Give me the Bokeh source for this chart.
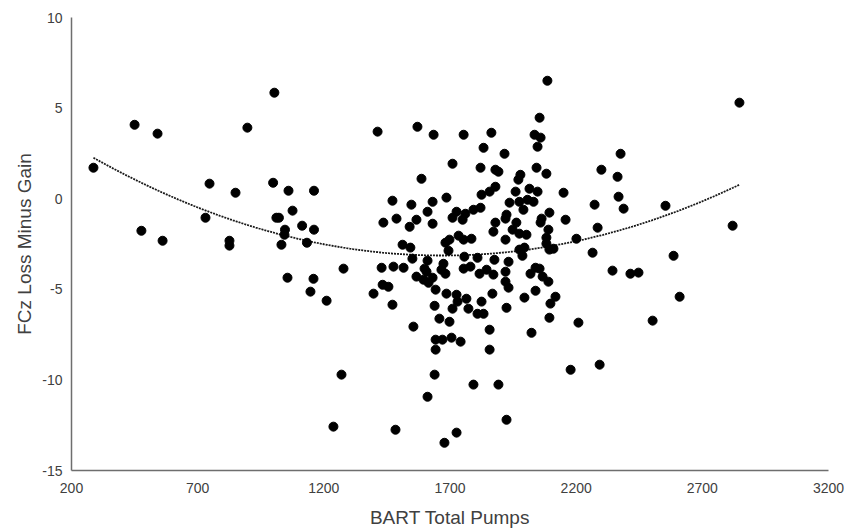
import numpy as np
from bokeh.plotting import figure
from bokeh.models import FixedTicker, ColumnDataSource
from bokeh.embed import file_html
from bokeh.resources import INLINE

# BART total pumps (x) and FCz loss-minus-gain (y)
pumps = [
    287, 450, 541, 1004, 897, 747, 850, 1060, 1076, 731, 1012, 477, 561, 826, 826, 1044, 1032, 1056,
    2086, 2055, 1413, 1571, 1635, 1754, 1864, 2035, 2059, 2047, 1833, 1916, 1710, 1821, 1880, 1892,
    2043, 2082, 1979, 1971, 1587, 999, 1161, 2150, 1960, 2015, 2047, 1880, 1857, 1825, 1686, 1472,
    1547, 1631, 1936, 1975, 2007, 2031, 1991, 1022, 1611, 1488, 1567, 1726, 1761, 1710, 1750, 1793,
    1821, 1924, 1920, 2094, 2063, 2059, 2158, 1880, 1963, 1436, 1631, 1046, 1114, 1161, 1540, 1872,
    1948, 1975, 2003, 2090, 1133, 1734, 1754, 1785, 1682, 1698, 1920, 2082, 2082, 2201, 1512, 1543,
    1694, 1975, 1995, 2094, 2110, 1757, 1809, 1551, 1611, 1674, 1876, 1932, 1987, 1278, 1429, 1476,
    1516, 1599, 1666, 1781, 1845, 2039, 2055, 1159, 1147, 1211, 1433, 1456, 1397, 1472, 1555, 1567,
    1595, 1631, 1615, 1643, 1639, 1682, 1686, 1726, 1730, 1710, 1765, 1773, 1817, 1872, 1825, 1809,
    1833, 1868, 1920, 1920, 1932, 1924, 2019, 2067, 2090, 2039, 1995, 2118, 2098, 2094, 1658, 1698,
    1857, 2023, 2209, 1643, 1670, 1706, 1742, 1643, 1857, 2178, 1270, 1639, 1793, 1892, 1611, 1924,
    1238, 1484, 1726, 1678, 2344, 2415, 2447, 2610, 2503, 2293, 2847, 2376, 2300, 2364, 2368, 2388,
    2273, 2554, 2285, 2820, 2265, 2586, 1607, 1754,
]
loss_minus_gain = [
    1.71, 4.08, 3.59, 5.85, 3.92, 0.83, 0.33, 0.44, -0.66, -1.05, -1.05, -1.77, -2.32, -2.32, -2.59, -1.99, -2.54, -4.36,
    6.51, 4.47, 3.70, 3.97, 3.53, 3.53, 3.64, 3.53, 3.37, 2.87, 2.81, 2.48, 1.93, 1.71, 1.60, 1.49,
    1.71, 1.38, 1.32, 1.05, 1.10, 0.88, 0.44, 0.33, 0.39, 0.55, 0.39, 0.66, 0.39, 0.22, 0.06, -0.11,
    -0.33, -0.17, -0.22, -0.17, -0.06, -0.17, -0.61, -1.05, -0.72, -1.10, -1.16, -0.72, -0.83, -1.05, -1.16, -0.61,
    -0.50, -0.88, -1.10, -0.77, -1.10, -1.32, -1.16, -1.32, -1.32, -1.32, -1.38, -1.71, -1.49, -1.71, -1.55, -1.82,
    -1.71, -1.93, -1.99, -1.71, -2.43, -2.04, -2.26, -2.21, -2.43, -2.26, -2.26, -2.15, -2.48, -2.21, -2.54, -2.70,
    -2.87, -2.81, -2.70, -2.81, -2.76, -3.20, -3.26, -3.31, -3.42, -3.59, -3.37, -3.48, -3.15, -3.86, -3.81, -3.75,
    -3.81, -3.86, -3.92, -3.75, -3.92, -3.81, -3.86, -4.42, -5.13, -5.63, -4.75, -4.86, -5.24, -5.85, -7.06, -4.30,
    -4.47, -4.36, -4.64, -5.02, -5.91, -4.14, -5.24, -5.30, -5.68, -6.07, -5.52, -6.07, -4.14, -4.19, -5.68, -6.35,
    -6.35, -5.24, -4.03, -4.58, -4.91, -6.02, -4.14, -4.30, -4.58, -5.08, -5.46, -5.41, -5.79, -6.57, -6.62, -6.79,
    -7.23, -7.40, -6.84, -7.78, -7.78, -7.67, -7.89, -8.33, -8.33, -9.44, -9.71, -9.71, -10.26, -10.26, -10.93, -12.20,
    -12.58, -12.75, -12.91, -13.47, -3.97, -4.14, -4.08, -5.41, -6.73, -9.16, 5.30, 2.48, 1.60, 1.21, 0.11, -0.55,
    -0.33, -0.39, -1.60, -1.49, -2.98, -3.15, -4.03, -3.86,
]

# Polynomial (order 2) trendline at a few x positions
trend_read_x = [287, 1060, 1670, 2210, 2847]
trend_read_y = [2.26, -2.08, -3.15, -2.30, 0.77]

x_ticks = [200, 700, 1200, 1700, 2200, 2700, 3200]
y_ticks = [-15, -10, -5, 0, 5, 10]
y_tick_labels = ["-15", "-10", "-5", "0", "5", "10"]

coef = np.polyfit(trend_read_x, trend_read_y, 2)
trend_x = np.linspace(min(pumps), max(pumps), 200)
trend_y = np.polyval(coef, trend_x)

p = figure(frame_width=757, frame_height=453, output_backend="svg", toolbar_location=None,
           x_range=(200, 3200), y_range=(-15, 10),
           min_border_left=71, min_border_right=20, min_border_top=17, min_border_bottom=50)
p.outline_line_color = None
p.xgrid.grid_line_color = None
p.ygrid.grid_line_color = None
p.background_fill_color = "white"
p.border_fill_color = "white"

p.line(trend_x, trend_y, line_color="#1a1a1a", line_width=1.8, line_dash="2 1")
src = ColumnDataSource(data=dict(x=pumps, y=loss_minus_gain))
p.scatter("x", "y", source=src, size=9, fill_color="black", line_color="black")

for ax in (p.xaxis, p.yaxis):
    ax.major_tick_line_color = None
    ax.minor_tick_line_color = None
    ax.major_tick_out = 0
    ax.major_tick_in = 0
    ax.minor_tick_out = 0
    ax.minor_tick_in = 0
    ax.axis_line_color = "#6e6e6e"
    ax.axis_line_width = 1.5
    ax.major_label_text_font = "Liberation Sans"
    ax.major_label_text_font_size = "14px"
    ax.major_label_text_color = "#404040"
    ax.axis_label_text_font = "Liberation Sans"
    ax.axis_label_text_font_size = "19px"
    ax.axis_label_text_font_style = "normal"
    ax.axis_label_text_color = "#404040"

p.xaxis.ticker = FixedTicker(ticks=x_ticks)
p.yaxis.ticker = FixedTicker(ticks=y_ticks)
p.yaxis.major_label_overrides = {t: s for t, s in zip(y_ticks, y_tick_labels)}
p.xaxis.axis_label = "BART Total Pumps"
p.yaxis.axis_label = "FCz Loss Minus Gain"
p.xaxis.major_label_standoff = 12
p.yaxis.major_label_standoff = 9
p.xaxis.axis_label_standoff = 11
p.yaxis.axis_label_standoff = 4

open("out.html", "w").write(file_html(p, INLINE))
